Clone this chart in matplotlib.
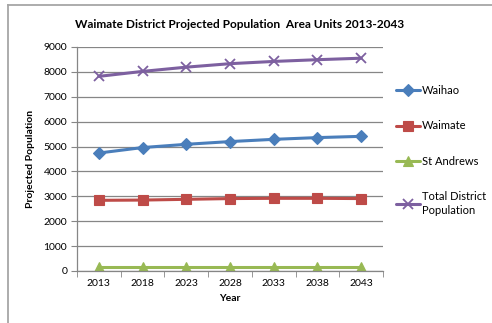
import matplotlib
matplotlib.use("Agg")
import matplotlib.pyplot as plt
from matplotlib.lines import Line2D

plt.rcParams['font.family'] = ['Lato', 'DejaVu Sans']

years = ["2013", "2018", "2023", "2028", "2033", "2038", "2043"]
waihao = [4740, 4960, 5090, 5200, 5290, 5360, 5410]
waimate = [2840, 2850, 2880, 2910, 2920, 2920, 2910]
st_andrews = [150, 150, 150, 150, 150, 150, 150]
total = [7820, 8020, 8190, 8330, 8420, 8490, 8550]

series = [
    ("Waihao", waihao, "#4A7EBB", "D", 6),
    ("Waimate", waimate, "#BE4B48", "s", 7),
    ("St Andrews", st_andrews, "#98B954", "^", 7),
    ("Total District\nPopulation", total, "#7D60A0", "x", 7),
]

W, H = 492, 323
fig = plt.figure(figsize=(W / 100, H / 100), dpi=100)

# outer chart frame (top and left edges visible)
fig.add_artist(Line2D([8 / W, 1.0], [1 - 5 / H, 1 - 5 / H], color="#A6A6A6", lw=1.3,
                      transform=fig.transFigure))
fig.add_artist(Line2D([8 / W, 8 / W], [1 - 5 / H, 0.0], color="#A6A6A6", lw=1.3,
                      transform=fig.transFigure))

ax = fig.add_axes([77 / W, 1 - 271 / H, (383 - 77) / W, (271 - 47) / H])
x = list(range(len(years)))
for name, vals, col, mk, ms in series:
    ax.plot(x, vals, color=col, lw=2.2, marker=mk, markersize=ms,
            markeredgewidth=1.3 if mk == "x" else 0.8, markeredgecolor=col,
            markerfacecolor=col, label=name, solid_capstyle="round")

ax.set_xlim(-0.5, len(years) - 0.5)
ax.set_ylim(0, 9000)
ax.set_yticks(range(0, 9001, 1000))
ax.set_xticks(x)
ax.set_xticklabels(years)
ax.set_xticks([i - 0.5 for i in range(len(years) + 1)], minor=True)
ax.tick_params(axis="x", which="major", length=0, labelsize=7.5, pad=6)
ax.tick_params(axis="x", which="minor", length=4, color="#868686", direction="out")
ax.tick_params(axis="y", length=4, color="#868686", labelsize=7.5, pad=3)
ax.yaxis.grid(True, color="#868686", lw=0.9)
ax.set_axisbelow(True)
for s in ["top", "right"]:
    ax.spines[s].set_visible(False)
for s in ["left", "bottom"]:
    ax.spines[s].set_color("#868686")
    ax.spines[s].set_linewidth(0.9)

ax.set_xlabel("Year", fontsize=7.5, fontweight="bold", labelpad=4)
ax.set_ylabel("Projected Population", fontsize=7.5, fontweight="bold", labelpad=6)
fig.text(240 / W, 1 - 25 / H, "Waimate District Projected Population  Area Units 2013-2043",
         ha="center", va="center", fontsize=8.6, fontweight="bold")

leg = fig.legend(loc="upper left", bbox_to_anchor=(396 / W, 1 - 85 / H),
                 frameon=False, fontsize=8, handlelength=2.2, handletextpad=0.15,
                 labelspacing=2.2, borderaxespad=0, borderpad=0)
for t in leg.get_texts():
    t.set_linespacing(1.3)

fig.savefig("out.png", dpi=100)
